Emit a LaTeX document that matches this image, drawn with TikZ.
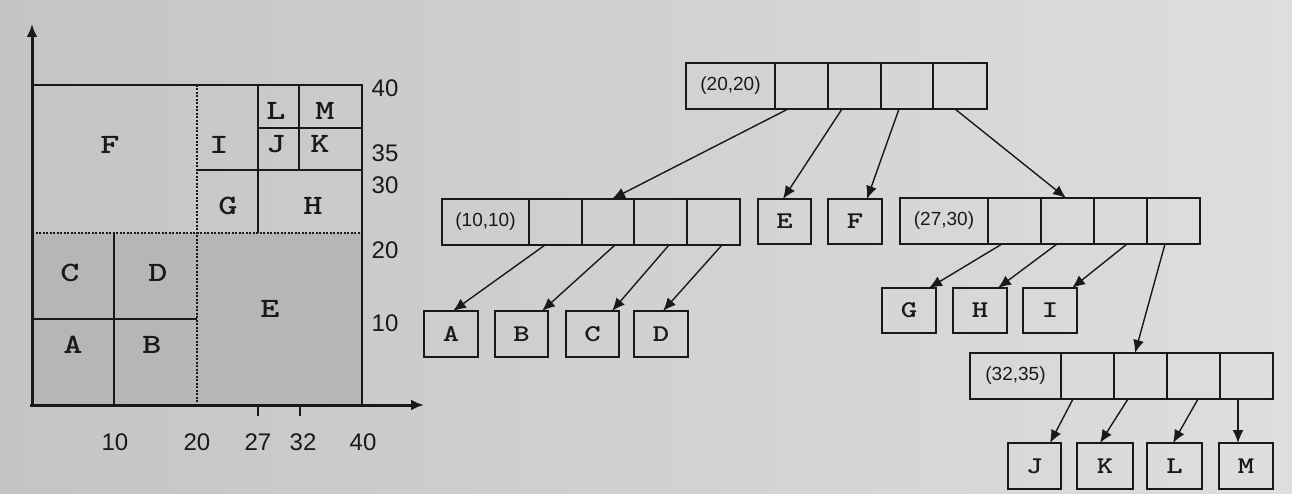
\documentclass[tikz,border=0pt]{standalone}
\usepackage{fontspec}
\usepackage{graphicx}
\setmainfont{Liberation Sans}
\newcommand\wideL[1]{\scalebox{1.3}[1]{\ttfamily\bfseries #1}}
\usetikzlibrary{calc,arrows.meta}
\definecolor{bgL}{RGB}{196,196,196}
\definecolor{bgR}{RGB}{222,222,222}
\definecolor{darkreg}{RGB}{182,182,182}
\definecolor{ink}{RGB}{25,25,25}
\tikzset{
  cellb/.style={draw=ink, line width=1.8pt, minimum height=46pt, inner sep=0pt, outer sep=0pt, anchor=north west, font=\fontsize{19}{19}\selectfont, text=ink},
  leafb/.style={cellb, font=\fontsize{24}{24}\selectfont},
  ptr/.style={draw=ink, line width=1.4pt, -{Latex[length=13pt,width=11pt]}},
  num/.style={font=\fontsize{24}{24}\selectfont, text=ink, inner sep=0pt},
  reg/.style={font=\fontsize{28}{28}\selectfont, text=ink, inner sep=0pt},
  bline/.style={draw=ink, line width=2pt},
  dline/.style={draw=ink, line width=2pt, dash pattern=on 2pt off 1.5pt},
}
\begin{document}
\begin{tikzpicture}[x=1pt,y=-1pt]
\useasboundingbox (0,0) rectangle (1292,494);
\shade[left color=bgL, right color=bgR] (0,0) rectangle (1292,494);
% plot regions
\fill[darkreg] (32,233) rectangle (362,405);
% plot lines
\draw[bline] (32,85) -- (362,85) -- (362,405);
\draw[dline] (197,85) -- (197,405);
\draw[dline] (32,233) -- (362,233);
\draw[bline] (114,233) -- (114,405);
\draw[bline] (32,319) -- (197,319);
\draw[bline] (197,170) -- (362,170);
\draw[bline] (258,85) -- (258,233);
\draw[bline] (258,128) -- (362,128);
\draw[bline] (299,85) -- (299,170);
% axes
\draw[draw=ink, line width=3pt, -{Latex[length=13pt,width=11pt]}] (32,407) -- (32,24);
\draw[draw=ink, line width=3pt, -{Latex[length=13pt,width=11pt]}] (30,405) -- (424,405);
\draw[bline] (258,405) -- (258,416);
\draw[bline] (300,405) -- (300,416);
% axis numbers
\node[num] (x10) at (115,442) {10};
\node[num] (x20) at (197,442) {20};
\node[num] (x27) at (258,442) {27};
\node[num] (x32) at (303,442) {32};
\node[num] (x40) at (363,442) {40};
\node[num] (y40) at (385,88) {40};
\node[num] (y35) at (385,153) {35};
\node[num] (y30) at (385,185) {30};
\node[num] (y20) at (385,250) {20};
\node[num] (y10) at (385,323) {10};
% region letters
\node[reg] (lF) at (110,145) {\wideL{F}};
\node[reg] (lI) at (219,145) {\wideL{I}};
\node[reg] (lL) at (276,111) {\wideL{L}};
\node[reg] (lM) at (325,111) {\wideL{M}};
\node[reg] (lJ) at (276,144) {\wideL{J}};
\node[reg] (lK) at (320,144) {\wideL{K}};
\node[reg] (lG) at (228,206) {\wideL{G}};
\node[reg] (lH) at (313,206) {\wideL{H}};
\node[reg] (lC) at (70,273) {\wideL{C}};
\node[reg] (lD) at (158,273) {\wideL{D}};
\node[reg] (lE) at (270,309) {\wideL{E}};
\node[reg] (lA) at (73,345) {\wideL{A}};
\node[reg] (lB) at (152,345) {\wideL{B}};
% root
\node[cellb, minimum width=89pt] (r0) at (686,63) {(20,20)};
\node[cellb, minimum width=53pt] (r1) at (r0.north east) {};
\node[cellb, minimum width=53pt] (r2) at (r1.north east) {};
\node[cellb, minimum width=52pt] (r3) at (r2.north east) {};
\node[cellb, minimum width=54pt] (r4) at (r3.north east) {};
% level 2 left
\node[cellb, minimum width=87pt] (p0) at (442,199) {(10,10)};
\node[cellb, minimum width=53pt] (p1) at (p0.north east) {};
\node[cellb, minimum width=52pt] (p2) at (p1.north east) {};
\node[cellb, minimum width=53pt] (p3) at (p2.north east) {};
\node[cellb, minimum width=53pt] (p4) at (p3.north east) {};
\node[leafb, minimum width=53pt, minimum height=45pt] (E) at (758,199) {\wideL{E}};
\node[leafb, minimum width=54pt, minimum height=45pt] (F) at (828,199) {\wideL{F}};
% level 2 right
\node[cellb, minimum width=88pt] (q0) at (900,198) {(27,30)};
\node[cellb, minimum width=53pt] (q1) at (q0.north east) {};
\node[cellb, minimum width=53pt] (q2) at (q1.north east) {};
\node[cellb, minimum width=53pt] (q3) at (q2.north east) {};
\node[cellb, minimum width=53pt] (q4) at (q3.north east) {};
% leaves A-D
\node[leafb, minimum width=54pt] (A) at (424,311) {\wideL{A}};
\node[leafb, minimum width=53pt] (B) at (495,311) {\wideL{B}};
\node[leafb, minimum width=53pt] (C) at (566,311) {\wideL{C}};
\node[leafb, minimum width=54pt] (D) at (634,311) {\wideL{D}};
% leaves G-I
\node[leafb, minimum width=54pt, minimum height=45pt] (G) at (882,288) {\wideL{G}};
\node[leafb, minimum width=54pt, minimum height=45pt] (H) at (953,288) {\wideL{H}};
\node[leafb, minimum width=54pt, minimum height=45pt] (I) at (1023,288) {\wideL{I}};
% level 3
\node[cellb, minimum width=91pt] (s0) at (970,353) {(32,35)};
\node[cellb, minimum width=53pt] (s1) at (s0.north east) {};
\node[cellb, minimum width=53pt] (s2) at (s1.north east) {};
\node[cellb, minimum width=53pt] (s3) at (s2.north east) {};
\node[cellb, minimum width=53pt] (s4) at (s3.north east) {};
% leaves J-M
\node[leafb, minimum width=53pt] (J) at (1008,443) {\wideL{J}};
\node[leafb, minimum width=56pt] (K) at (1077,443) {\wideL{K}};
\node[leafb, minimum width=55pt] (L) at (1147,443) {\wideL{L}};
\node[leafb, minimum width=54pt] (M) at (1219,443) {\wideL{M}};
% pointers
\draw[ptr] ($(r1.south west)+(13,0)$) -- ($(p2.north west)+(30,0)$);
\draw[ptr] ($(r2.south west)+(14,0)$) -- ($(E.north west)+(25,0)$);
\draw[ptr] ($(r3.south west)+(18,0)$) -- ($(F.north west)+(39,0)$);
\draw[ptr] ($(r4.south west)+(22,0)$) -- ($(q2.north west)+(25,0)$);
\draw[ptr] ($(p1.south west)+(16,0)$) -- ($(A.north west)+(29,0)$);
\draw[ptr] ($(p2.south west)+(33,0)$) -- ($(B.north west)+(47,0)$);
\draw[ptr] ($(p3.south west)+(35,0)$) -- ($(C.north west)+(46,0)$);
\draw[ptr] ($(p4.south west)+(35,0)$) -- ($(D.north west)+(29,0)$);
\draw[ptr] ($(q1.south west)+(14,0)$) -- ($(G.north west)+(47,0)$);
\draw[ptr] ($(q2.south west)+(16,0)$) -- ($(H.north west)+(45,0)$);
\draw[ptr] ($(q3.south west)+(33,0)$) -- ($(I.north west)+(49,0)$);
\draw[ptr] ($(q4.south west)+(18,0)$) -- ($(s2.north west)+(21,0)$);
\draw[ptr] ($(s1.south west)+(12,0)$) -- ($(J.north west)+(42,0)$);
\draw[ptr] ($(s2.south west)+(14,0)$) -- ($(K.north west)+(23,0)$);
\draw[ptr] ($(s3.south west)+(31,0)$) -- ($(L.north west)+(26,0)$);
\draw[ptr] ($(s4.south west)+(18,0)$) -- ($(M.north west)+(19,0)$);
\end{tikzpicture}
\end{document}
